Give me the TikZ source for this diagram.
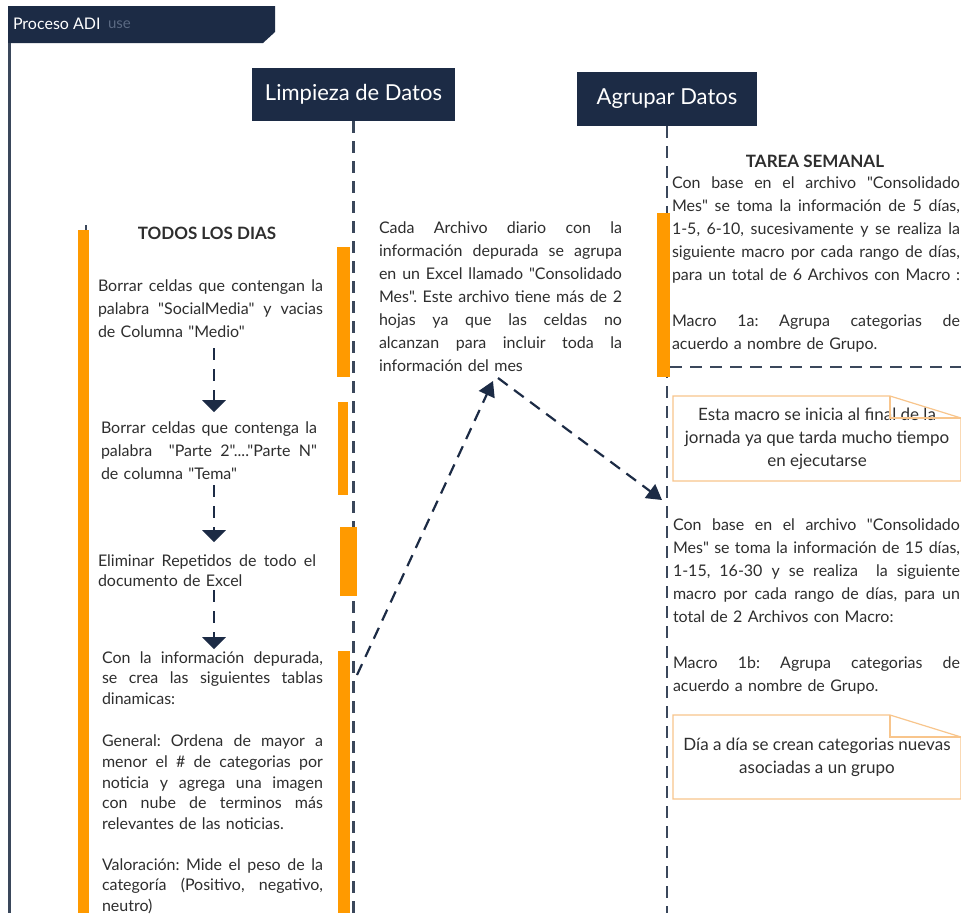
\documentclass[tikz,border=0pt]{standalone}
\usepackage{fontspec}
\setmainfont{Lato}[Ligatures=TeXOff]
\usetikzlibrary{arrows.meta,calc}
\definecolor{navy}{HTML}{1C2B45}
\definecolor{lifec}{HTML}{3A475B}
\definecolor{orng}{HTML}{FF9A00}
\definecolor{notec}{HTML}{F8C58C}
\definecolor{txtc}{HTML}{2E2E2E}
\definecolor{fadec}{HTML}{5A6982}
\newcommand{\jl}[2]{\leavevmode\hbox to #1pt{\spaceskip=\fontdimen2\font plus 1fil minus \fontdimen4\font\relax #2}}
\begin{document}
\frenchspacing
\begin{tikzpicture}[x=1pt,y=-1pt,
  every node/.style={inner sep=0pt, outer sep=0pt},
  body/.style={font=\fontsize{16}{23}\selectfont, text=txtc, anchor=base west, align=left},
  headtxt/.style={font=\bfseries\fontsize{17}{20}\selectfont, text=txtc, anchor=base},
  titlebox/.style={fill=navy, text=white, font=\fontsize{22}{26}\selectfont},
  lifeline/.style={draw=lifec, line width=2.6pt, dash pattern=on 12pt off 8pt},
  barbox/.style={fill=orng, anchor=north west},
  varr/.style={draw=lifec, line width=2.4pt, dash pattern=on 12pt off 9pt, -{Triangle[width=23pt,length=12pt]}, color=navy},
  darr/.style={draw=lifec, line width=2.2pt, dash pattern=on 12pt off 8pt, -{Triangle[width=17pt,length=15pt]}, color=navy},
  notebox/.style={anchor=north west, align=center, text=txtc, font=\fontsize{17}{23}\selectfont},
  noteline/.style={draw=notec, line width=1.2pt}
]
\useasboundingbox (0,0) rectangle (961,913);
\fill[white] (0,0) rectangle (961,913);
\clip (0,0) rectangle (961,913);

% header
\fill[navy] (8,6) -- (275,6) -- (275,32) -- (263,43) -- (8,43) -- cycle;
\node[anchor=base west, text=white, font=\fontsize{16}{18}\selectfont] (proc) at (13,29) {Proceso ADI};
\node[anchor=base west, text=fadec, font=\fontsize{15}{18}\selectfont] (usetxt) at (108,28) {use};
\draw[lifec, line width=3pt] (9.5,43) -- (9.5,913);

% lifeline heads
\node[titlebox, minimum width=203pt, minimum height=53pt] (limp) at (353.5,94.5) {Limpieza de Datos};
\node[titlebox, minimum width=180pt, minimum height=54pt] (agr) at (667,99) {Agrupar Datos};
\coordinate (limpend) at (353.5,913);
\coordinate (agrend) at (667,913);
\draw[lifeline] (limp.south) -- (limpend);
\draw[lifeline] (agr.south) -- (agrend);

% activation bars
\draw[lifec, line width=1.5pt] (86,225) -- (86,231);
\node[barbox, minimum width=11pt, minimum height=683pt] (barL) at (78,230) {};
\node[barbox, minimum width=13pt, minimum height=130pt] (barA) at (337,247) {};
\node[barbox, minimum width=10pt, minimum height=93pt] (barB) at (338,402) {};
\node[barbox, minimum width=17pt, minimum height=69pt] (barC) at (340,527) {};
\node[barbox, minimum width=12pt, minimum height=262pt] (barD) at (338,651) {};
\node[barbox, minimum width=13pt, minimum height=164pt] (barR) at (657,213) {};

% left column
\node[headtxt] (todos) at (207,239) {TODOS LOS DIAS};
\node[body, text width=225pt] (t1) at (98,291) {%
\jl{225}{Borrar celdas que contengan la}\\
\jl{225}{palabra "SocialMedia" y vacias}\\
de Columna "Medio"};
\node[body, text width=216pt] (t2) at (101,433) {%
\jl{216}{Borrar celdas que contenga la}\\
\jl{216}{palabra \ "Parte 2"...."Parte N"}\\
de columna "Tema"};
\node[body, text width=218pt, font=\fontsize{16}{20}\selectfont] (t3) at (98,566) {%
\jl{218}{Eliminar Repetidos de todo el}\\
documento de Excel};
\node[body, text width=221pt, font=\fontsize{16}{20.6}\selectfont] (t4) at (102,663) {%
\jl{221}{Con la información depurada,}\\
\jl{221}{se crea las siguientes tablas}\\
dinamicas:\\[22pt]
\jl{221}{General: Ordena de mayor a}\\
\jl{221}{menor el \# de categorias por}\\
\jl{221}{noticia y agrega una imagen}\\
\jl{221}{con nube de terminos más}\\
relevantes de las noticias.\\[20.5pt]
\jl{221}{Valoración: Mide el peso de la}\\
\jl{221}{categoría (Positivo, negativo,}\\
neutro)};

\coordinate (ax) at (214,0);
\draw[varr, shorten <=11pt, shorten >=9pt] (t1.south -| ax) -- (t2.north -| ax);
\draw[varr, shorten <=6pt, shorten >=12pt] (t2.south -| ax) -- (t3.north -| ax);
\draw[varr, shorten <=4pt, shorten >=2pt] (t3.south -| ax) -- (t4.north -| ax);

% middle text
\node[body, text width=243pt] (mid) at (379,233) {%
\jl{243}{Cada Archivo diario con la}\\
\jl{243}{información depurada se agrupa}\\
\jl{243}{en un Excel llamado "Consolidado}\\
\jl{243}{Mes". Este archivo tiene más de 2}\\
\jl{243}{hojas ya que las celdas no}\\
\jl{243}{alcanzan para incluir toda la}\\
información del mes};

\coordinate (m1) at (493,381);
\coordinate (m2) at (498,378);
\coordinate (r1) at (662,500);
\draw[darr] ($(barD.north east)+(7,24)$) -- (m1);
\draw[darr] (m2) -- (r1);

% right column
\node[headtxt] (tarea) at (815,167) {TAREA SEMANAL};
\node[body, text width=288pt] (rt1) at (672,188) {%
\jl{288}{Con base en el archivo "Consolidado}\\
\jl{288}{Mes" se toma la información de 5 días,}\\
\jl{288}{1-5, 6-10, sucesivamente y se realiza la}\\
\jl{288}{siguiente macro por cada rango de días,}\\
\jl{288}{para un total de 6 Archivos con Macro :}\\[23pt]
\jl{288}{Macro 1a: Agrupa categorias de}\\
acuerdo a nombre de Grupo.};
\coordinate (sepend) at (961,367);
\draw[lifeline] ($(barR.south east)+(0,-10)$) -- (sepend);

\node[notebox, minimum width=288pt, minimum height=85pt] (note1) at (673,396) {Esta macro se inicia al final de la\\jornada ya que tarda mucho tiempo\\en ejecutarse};
\draw[noteline] ($(note1.north east)+(-71,0)$) -- (note1.north west) -- (note1.south west) -- (note1.south east) -- ($(note1.north east)+(0,22)$) -- cycle;
\draw[noteline] ($(note1.north east)+(-71,0)$) -- ++(0,22) -- ($(note1.north east)+(0,22)$);

\node[body, text width=287pt] (rt2) at (673,530) {%
\jl{287}{Con base en el archivo "Consolidado}\\
\jl{287}{Mes" se toma la información de 15 días,}\\
\jl{287}{1-15, 16-30 y se realiza \ la siguiente}\\
\jl{287}{macro por cada rango de días, para un}\\
total de 2 Archivos con Macro:\\[23pt]
\jl{287}{Macro 1b: Agrupa categorias de}\\
acuerdo a nombre de Grupo.};

\node[notebox, minimum width=288pt, minimum height=84pt] (note2) at (673,715) {Día a día se crean categorias nuevas\\asociadas a un grupo};
\draw[noteline] ($(note2.north east)+(-71,0)$) -- (note2.north west) -- (note2.south west) -- (note2.south east) -- ($(note2.north east)+(0,22)$) -- cycle;
\draw[noteline] ($(note2.north east)+(-71,0)$) -- ++(0,22) -- ($(note2.north east)+(0,22)$);
\end{tikzpicture}
\end{document}
